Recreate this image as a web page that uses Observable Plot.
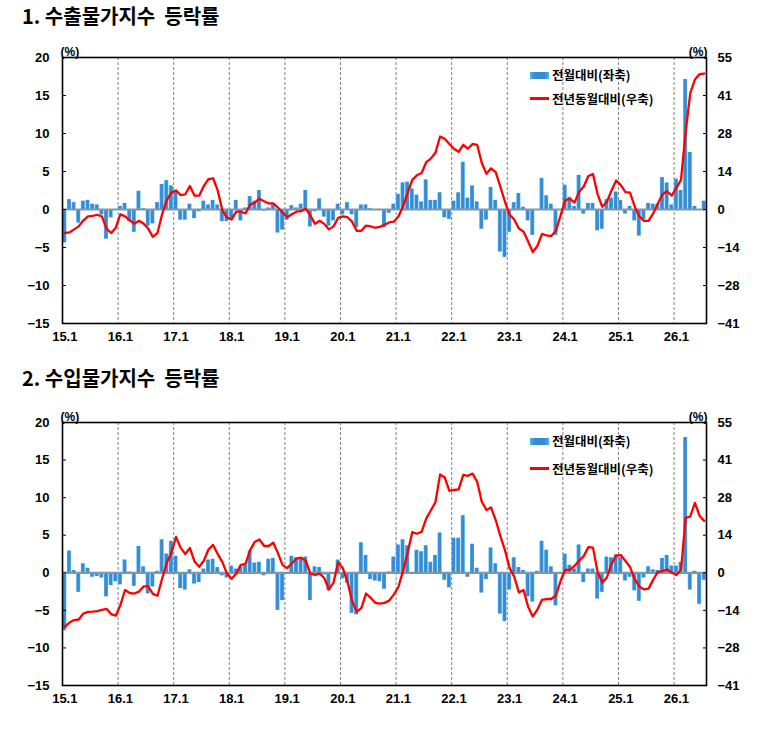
<!DOCTYPE html>
<html>
<head>
<meta charset="utf-8">
<script src="https://cdn.jsdelivr.net/npm/d3@7"></script>
<script src="https://cdn.jsdelivr.net/npm/@observablehq/plot@0.6"></script>
<style>
  body { margin: 0; background: #fff; }
  #page { position: relative; width: 762px; height: 736px; overflow: hidden; background: #fff; }
  .title { position: absolute; left: 22px; font-family: "Noto Sans CJK KR", sans-serif; font-weight: 700; font-size: 20px; line-height: 20px; white-space: pre; color: #000; }
  .chart { position: absolute; left: 0; }
  .leg { position: absolute; font-family: "Noto Sans CJK KR", sans-serif; font-weight: 700; font-size: 12.5px; line-height: 13px; white-space: pre; color: #000; }
  .sw-bar { position: absolute; width: 19px; height: 7px; background: linear-gradient(to right, #48b6ef 0%, #3b8ad2 25%, #3b86cf 75%, #48b6ef 100%); }
  .sw-line { position: absolute; width: 19px; height: 2.5px; background: #ff0000; }
</style>
</head>
<body>
<div id="page">
  <div class="title" style="top:6px">1. 수출물가지수  등락률</div>
  <div id="c1" class="chart" style="top:36px"></div>
  <div class="sw-bar" style="left:530px; top:71.5px"></div>
  <div class="leg" style="left:552px; top:68px">전월대비(좌축)</div>
  <div class="sw-line" style="left:530px; top:97px"></div>
  <div class="leg" style="left:552px; top:92px">전년동월대비(우축)</div>

  <div class="title" style="top:368px">2. 수입물가지수  등락률</div>
  <div id="c2" class="chart" style="top:401px"></div>
  <div class="sw-bar" style="left:530px; top:437.5px"></div>
  <div class="leg" style="left:552px; top:434px">전월대비(좌축)</div>
  <div class="sw-line" style="left:530px; top:467px"></div>
  <div class="leg" style="left:552px; top:461.5px">전년동월대비(우축)</div>
</div>
<script>
// ---- tick labels ----
const yearLabels = ["15.1","16.1","17.1","18.1","19.1","20.1","21.1","22.1","23.1","24.1","25.1","26.1"];
const leftTicks = [20, 15, 10, 5, 0, -5, -10, -15];
const rightLabels = [55, 41, 28, 14, 0, -14, -28, -41];
const RIGHT_PER_LEFT = 55 / 20;

// ---- 1. 수출물가지수 : 전월대비 (%, left axis), monthly 2015.1 - 2026.7 ----
const exportMoM = [
  -4.4, 1.3, 0.9, -1.8, 1.1, 1.2, 0.7, 0.6, -0.7, -3.9, -1.1, -0.1,
  0.4, 0.8, -1.6, -3.0, 2.4, 0.1, -2.2, -1.9, 0.9, 3.3, 3.8, 3.1,
  2.5, -1.4, -1.4, 0.7, -1.2, -0.3, 1.1, 0.6, 1.2, 0.6, -1.6, -1.6,
  -1.4, 1.2, -1.5, 0.2, 1.7, 1.1, 2.5, -0.2, 0.2, 0.7, -3.1, -2.7,
  -1.4, 0.5, 0.2, 0.7, 2.5, -2.3, -0.3, 1.4, -1.0, -2.2, -1.5, 0.7,
  -0.7, 0.9, -0.7, -2.4, 0.6, 0.6, 0.1, 0.0, -0.1, -2.4, -0.5, 0.7,
  2.0, 3.5, 3.6, 2.7, 1.9, 1.0, 3.9, 1.2, 1.2, 2.2, -1.1, -1.3,
  1.1, 2.2, 6.2, 1.5, 3.1, 1.0, -2.6, -1.4, 2.9, 1.2, -5.6, -6.3,
  -3.0, 0.9, 2.1, 0.3, -1.5, -3.4, 0.0, 4.1, 1.8, 0.7, -3.4, -0.1,
  3.2, 1.6, 0.4, 4.5, -0.6, 0.8, 0.8, -2.8, -2.6, 1.3, 1.5, 2.3,
  1.2, -0.6, 0.4, -1.5, -3.5, -1.3, 0.8, 0.7, 0.7, 4.2, 3.5, 0.6,
  4.0, 2.5, 17.1, 7.5, 0.4, -0.1, 1.1
];
// ---- 1. 수출물가지수 : 전년동월대비 (%, right axis) ----
const exportYoY = [
  -8.5, -8.3, -7.2, -6.1, -3.9, -2.5, -2.3, -1.9, -2.5, -6.9, -8.5, -6.6,
  -1.7, -2.5, -3.9, -5.2, -4.1, -5.1, -6.9, -9.9, -8.5, -1.7, 3.3, 6.1,
  6.9, 5.2, 5.5, 8.5, 5.0, 5.0, 8.5, 11.0, 11.3, 6.9, -0.3, -2.9,
  -3.6, -0.8, -0.8, -1.4, 1.7, 2.5, 3.9, 3.0, 2.2, 2.2, 0.7, -1.1,
  -2.8, -1.7, -0.8, -0.6, 0.3, -2.2, -5.2, -4.1, -5.2, -7.2, -6.1, -3.0,
  -2.5, -2.8, -4.4, -7.7, -7.7, -5.8, -6.1, -6.6, -6.3, -5.5, -4.7, -4.4,
  -2.5, 1.1, 6.1, 10.7, 12.4, 13.2, 17.1, 18.4, 20.6, 26.4, 25.6, 23.7,
  22.0, 20.9, 23.4, 22.0, 23.7, 23.4, 16.8, 12.9, 14.9, 13.5, 8.3, 2.8,
  -1.9, -3.6, -6.9, -8.0, -11.6, -15.4, -13.2, -8.8, -9.4, -9.6, -7.7, -2.2,
  3.3, 3.9, 2.5, 6.3, 8.3, 12.1, 12.8, 5.5, 1.0, 2.8, 6.9, 10.5,
  8.8, 6.3, 6.1, 1.1, -2.5, -4.1, -4.1, -1.4, 2.2, 5.5, 6.6, 5.0,
  7.8, 10.7, 28.1, 42.1, 47.0, 49.0, 49.2
];
// ---- 2. 수입물가지수 : 전월대비 (%, left axis) ----
const importMoM = [
  -7.7, 2.9, 0.3, -2.6, 1.2, 0.6, -0.6, -0.5, -0.7, -3.2, -1.7, -1.2,
  -1.6, 1.7, 0.1, -1.8, 3.5, 0.8, -2.8, -1.9, 0.2, 4.4, 2.5, 4.2,
  2.2, -2.1, -2.3, 0.4, -1.5, -1.3, 0.5, 1.7, 1.8, 0.7, -0.4, -0.7,
  0.9, 0.5, 0.8, 1.0, 2.9, 1.3, 1.4, -0.4, 1.8, 1.9, -5.0, -3.7,
  -0.1, 2.2, 2.0, 1.9, 2.1, -3.7, 0.8, 0.7, -0.3, -2.4, -0.1, 1.7,
  -0.8, -1.4, -5.4, -5.6, 4.0, 2.3, -0.9, -1.1, -1.2, -2.2, 0.1, 2.1,
  3.7, 4.4, 3.6, -0.2, 3.0, 2.8, 3.6, 1.4, 2.3, 5.3, -1.0, -2.0,
  4.6, 4.6, 7.6, -0.6, 3.8, 0.6, -2.7, -0.9, 3.3, 1.2, -5.5, -6.5,
  -2.3, 2.0, 0.7, 0.3, -3.2, -3.9, 0.2, 4.2, 3.0, 0.8, -4.4, -0.1,
  2.5, 1.0, 0.5, 3.7, -1.3, 0.5, 0.5, -3.5, -2.6, 2.1, 2.0, 2.4,
  2.0, -1.1, -0.6, -2.4, -3.8, -0.7, 0.8, 0.4, 0.3, 1.9, 2.3, 0.9,
  0.9, 1.4, 18.0, -2.3, 0.2, -4.2, -1.0
];
// ---- 2. 수입물가지수 : 전년동월대비 (%, right axis) ----
const importYoY = [
  -19.8, -18.2, -17.3, -17.1, -14.9, -14.3, -14.2, -14.0, -13.6, -13.2, -15.1, -15.7,
  -11.8, -6.3, -7.4, -7.6, -6.9, -5.0, -5.0, -7.7, -8.4, -2.2, 3.6, 7.4,
  13.1, 9.1, 6.9, 9.1, 4.1, 2.2, 4.4, 8.5, 10.2, 6.9, 3.9, -0.3,
  -2.2, -0.3, 2.9, 3.3, 8.3, 11.3, 12.2, 9.8, 9.8, 11.0, 7.2, 2.8,
  1.7, 3.4, 5.2, 5.5, 4.4, -0.3, -0.8, -0.3, -1.9, -6.1, -3.6, 3.9,
  1.7, -3.3, -10.2, -14.3, -12.9, -7.6, -9.1, -11.0, -11.3, -11.0, -10.2, -8.0,
  -5.2, 0.6, 7.4, 14.9, 14.3, 15.0, 19.8, 22.8, 25.9, 36.0, 34.9, 30.0,
  30.3, 30.5, 35.8, 35.5, 36.3, 33.3, 26.0, 23.0, 23.9, 19.3, 13.5, 8.3,
  1.7, -1.4, -7.2, -6.3, -12.4, -16.0, -13.5, -9.9, -9.6, -9.6, -8.3, -3.0,
  1.1, 1.1, 2.5, 4.4, 6.1, 9.4, 9.2, 0.3, -3.6, -1.7, 3.3, 6.3,
  6.5, 4.3, 2.1, -2.3, -5.0, -6.1, -5.8, -2.5, 0.3, 0.6, 1.2, 0.1,
  -0.8, 1.1, 20.1, 20.6, 25.6, 20.9, 19.0
];

function fmtMinus(v) { return v < 0 ? "\u2212" + Math.abs(v) : String(v); }

function makeChart(mom, yoy, gradId, height, marginTop, marginBottom) {
  const data = mom.map((v, i) => ({ i, mom: v, yoy: yoy[i] }));
  const janIdx = yearLabels.map((_, k) => k * 12);
  const svg = Plot.plot({
    width: 762,
    height,
    marginLeft: 62,
    marginRight: 56,
    marginTop,
    marginBottom,
    x: { type: "linear", domain: [0, data.length], label: null },
    y: { domain: [-15, 20], label: null },
    style: {
      fontFamily: "'Liberation Sans', Arial, sans-serif",
      fontSize: "13px",
      fontWeight: "bold",
      color: "#000",
      background: "transparent",
      overflow: "visible"
    },
    marks: [
      Plot.ruleX(janIdx.slice(1), { stroke: "#808080", strokeWidth: 1, strokeDasharray: "3,2" }),
      Plot.rectY(data, { x1: "i", x2: d => d.i + 1, y: "mom", fill: `url(#${gradId})`, insetLeft: 0.3, insetRight: 0.3 }),
      Plot.ruleY([0], { stroke: "#7f97ae", strokeWidth: 2.2 }),
      Plot.line(data, { x: d => d.i + 0.5, y: d => d.yoy / RIGHT_PER_LEFT, stroke: "#ff0000", strokeWidth: 2.3 }),
      Plot.axisY({ anchor: "left", label: null, ticks: leftTicks, tickSize: -4, tickPadding: 17, tickFormat: fmtMinus }),
      Plot.axisY({ anchor: "right", label: null, ticks: leftTicks, tickSize: -4, tickPadding: 15,
                   tickFormat: d => fmtMinus(rightLabels[leftTicks.indexOf(d)]) }),
      Plot.axisX({ label: null, ticks: janIdx.map(i => i + 0.5), tickSize: 0, tickPadding: 8,
                   tickFormat: d => yearLabels[Math.round((d - 0.5) / 12)] }),
      Plot.frame({ stroke: "#000", strokeWidth: 1.6 }),
      Plot.text(["(%)"], { frameAnchor: "top-left", textAnchor: "start", dx: -2, dy: -10, fontSize: 12 }),
      Plot.text(["(%)"], { frameAnchor: "top-right", textAnchor: "end", dx: 1, dy: -10, fontSize: 12 })
    ]
  });
  const ns = "http://www.w3.org/2000/svg";
  const defs = document.createElementNS(ns, "defs");
  const g = document.createElementNS(ns, "linearGradient");
  g.setAttribute("id", gradId);
  g.setAttribute("x1", "0"); g.setAttribute("x2", "1"); g.setAttribute("y1", "0"); g.setAttribute("y2", "0");
  [["0%", "#48b6ef"], ["28%", "#3b8bd3"], ["72%", "#3b87cf"], ["100%", "#48b6ef"]].forEach(([o, c]) => {
    const s = document.createElementNS(ns, "stop");
    s.setAttribute("offset", o); s.setAttribute("stop-color", c);
    g.appendChild(s);
  });
  defs.appendChild(g);
  svg.insertBefore(defs, svg.firstChild);
  return svg;
}

document.getElementById("c1").appendChild(makeChart(exportMoM, exportYoY, "gradA", 317, 21, 30));
document.getElementById("c2").appendChild(makeChart(importMoM, importYoY, "gradB", 314, 21, 30));
</script>
</body>
</html>
